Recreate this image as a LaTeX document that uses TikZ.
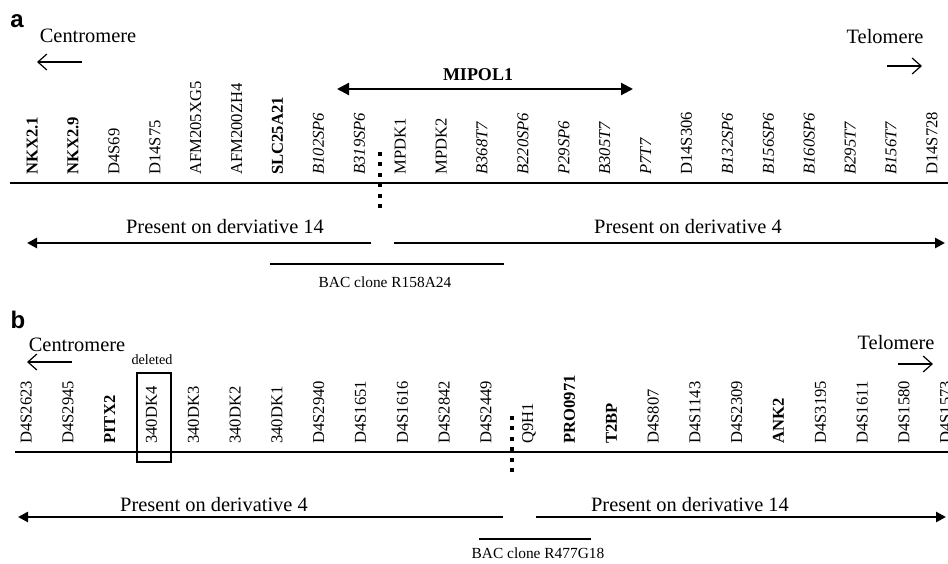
\documentclass[tikz,border=0pt]{standalone}
\usepackage{fontspec}
\setmainfont{Liberation Serif}
\newfontfamily\panelfont{Liberation Sans}
\usetikzlibrary{arrows.meta}

\tikzset{
  marker/.style={rotate=90, anchor=mid west, inner sep=0pt, font=\fontsize{8.3}{10}\selectfont},
  sidelabel/.style={inner sep=0pt, font=\fontsize{10.2}{12}\selectfont},
  panellabel/.style={inner sep=0pt, font=\panelfont\bfseries\fontsize{12}{14}\selectfont},
  baclabel/.style={inner sep=0pt, font=\fontsize{7.7}{9}\selectfont},
  barb/.style={-{Straight Barb[length=4.5pt,width=8pt]}, line width=0.6pt},
  derarrow/.style={-{Triangle[length=5pt,width=5pt]}, line width=1.3pt},
  chromline/.style={line width=1pt},
  breakpoint/.style={line width=2pt, dash pattern=on 2pt off 3.2pt}
}

\begin{document}
\begin{tikzpicture}[x=0.5pt, y=-0.5pt]
  \clip (0,0) rectangle (948,563);

  % ---- panel a
  \node[panellabel] (pa) at (17,21) {a};
  \node[sidelabel] (cena) at (88,36) {Centromere};
  \coordinate (cena-s) at (82,62);
  \coordinate (cena-e) at (37,62);
  \draw[barb] (cena-s) -- (cena-e);
  \node[sidelabel] (tela) at (885,37) {Telomere};
  \coordinate (tela-s) at (887,66);
  \coordinate (tela-e) at (922,66);
  \draw[barb] (tela-s) -- (tela-e);

  \node[inner sep=0pt, font=\bfseries\fontsize{9}{11}\selectfont] (mipol) at (478,75) {MIPOL1};
  \coordinate (mipol-l) at (337,89);
  \coordinate (mipol-r) at (633,89);
  \draw[{Triangle[length=6pt,width=6pt]}-{Triangle[length=6pt,width=6pt]}, line width=1.1pt] (mipol-l) -- (mipol-r);

  \foreach \lab [count=\i from 0] in {\textbf{NKX2.1}, \textbf{NKX2.9}, D4S69, D14S75,
      AFM205XG5, AFM200ZH4, \textbf{SLC25A21}, \textit{B102SP6}, \textit{B319SP6},
      MPDK1, MPDK2, \textit{B368T7}, \textit{B220SP6}, \textit{P29SP6}, \textit{B305T7},
      \textit{P7T7}, D14S306, \textit{B132SP6}, \textit{B156SP6}, \textit{B160SP6},
      \textit{B295T7}, \textit{B156T7}, D14S728}
    \node[marker] (ma\i) at ({33+40.9*\i},175) {\lab};

  \coordinate (chra-l) at (10,183);
  \coordinate (chra-r) at (948,183);
  \draw[chromline] (chra-l) -- (chra-r);
  \coordinate (bpa-t) at (380,152);
  \coordinate (bpa-b) at (380,208);
  \draw[breakpoint] (bpa-t) -- (bpa-b);

  \node[sidelabel] (dera14) at (225,227) {Present on derviative 14};
  \node[sidelabel] (dera4) at (688,227) {Present on derivative 4};
  \coordinate (dera-l0) at (371,243);
  \coordinate (dera-l1) at (27,243);
  \coordinate (dera-r0) at (394,243);
  \coordinate (dera-r1) at (945,243);
  \draw[derarrow] (dera-l0) -- (dera-l1);
  \draw[derarrow] (dera-r0) -- (dera-r1);

  \coordinate (baca-l) at (270,264);
  \coordinate (baca-r) at (504,264);
  \draw[chromline] (baca-l) -- (baca-r);
  \node[baclabel] (baca) at (385,282) {BAC clone R158A24};

  % ---- panel b
  \node[panellabel] (pb) at (18,320) {b};
  \node[sidelabel] (cenb) at (77,345) {Centromere};
  \coordinate (cenb-s) at (72,362);
  \coordinate (cenb-e) at (27,362);
  \draw[barb] (cenb-s) -- (cenb-e);
  \node[sidelabel] (telb) at (896,343) {Telomere};
  \coordinate (telb-s) at (898,364);
  \coordinate (telb-e) at (933,364);
  \draw[barb] (telb-s) -- (telb-e);

  \node[inner sep=0pt, font=\fontsize{7.1}{9}\selectfont] (del) at (152,360) {deleted};

  \foreach \lab [count=\i from 0] in {D4S2623, D4S2945, \textbf{PITX2}, 340DK4, 340DK3,
      340DK2, 340DK1, D4S2940, D4S1651, D4S1616, D4S2842, D4S2449, Q9H1,
      \textbf{PRO0971}, \textbf{T2BP}, D4S807, D4S1143, D4S2309, \textbf{ANK2},
      D4S3195, D4S1611, D4S1580, D4S1573}
    \node[marker] (mb\i) at ({27+41.8*\i},444) {\lab};

  \coordinate (box-tl) at (137,373);
  \coordinate (box-br) at (171,462);
  \draw[line width=0.9pt] (box-tl) rectangle (box-br);

  \coordinate (chrb-l) at (15,452);
  \coordinate (chrb-r) at (948,452);
  \draw[chromline] (chrb-l) -- (chrb-r);
  \coordinate (bpb-t) at (512,416);
  \coordinate (bpb-b) at (512,474);
  \draw[breakpoint] (bpb-t) -- (bpb-b);

  \node[sidelabel] (derb4) at (214,505) {Present on derivative 4};
  \node[sidelabel] (derb14) at (690,505) {Present on derivative 14};
  \coordinate (derb-l0) at (503,517);
  \coordinate (derb-l1) at (18,517);
  \coordinate (derb-r0) at (536,517);
  \coordinate (derb-r1) at (946,517);
  \draw[derarrow] (derb-l0) -- (derb-l1);
  \draw[derarrow] (derb-r0) -- (derb-r1);

  \coordinate (bacb-l) at (479,539);
  \coordinate (bacb-r) at (591,539);
  \draw[chromline] (bacb-l) -- (bacb-r);
  \node[baclabel] (bacb) at (538,553) {BAC clone R477G18};
\end{tikzpicture}
\end{document}
